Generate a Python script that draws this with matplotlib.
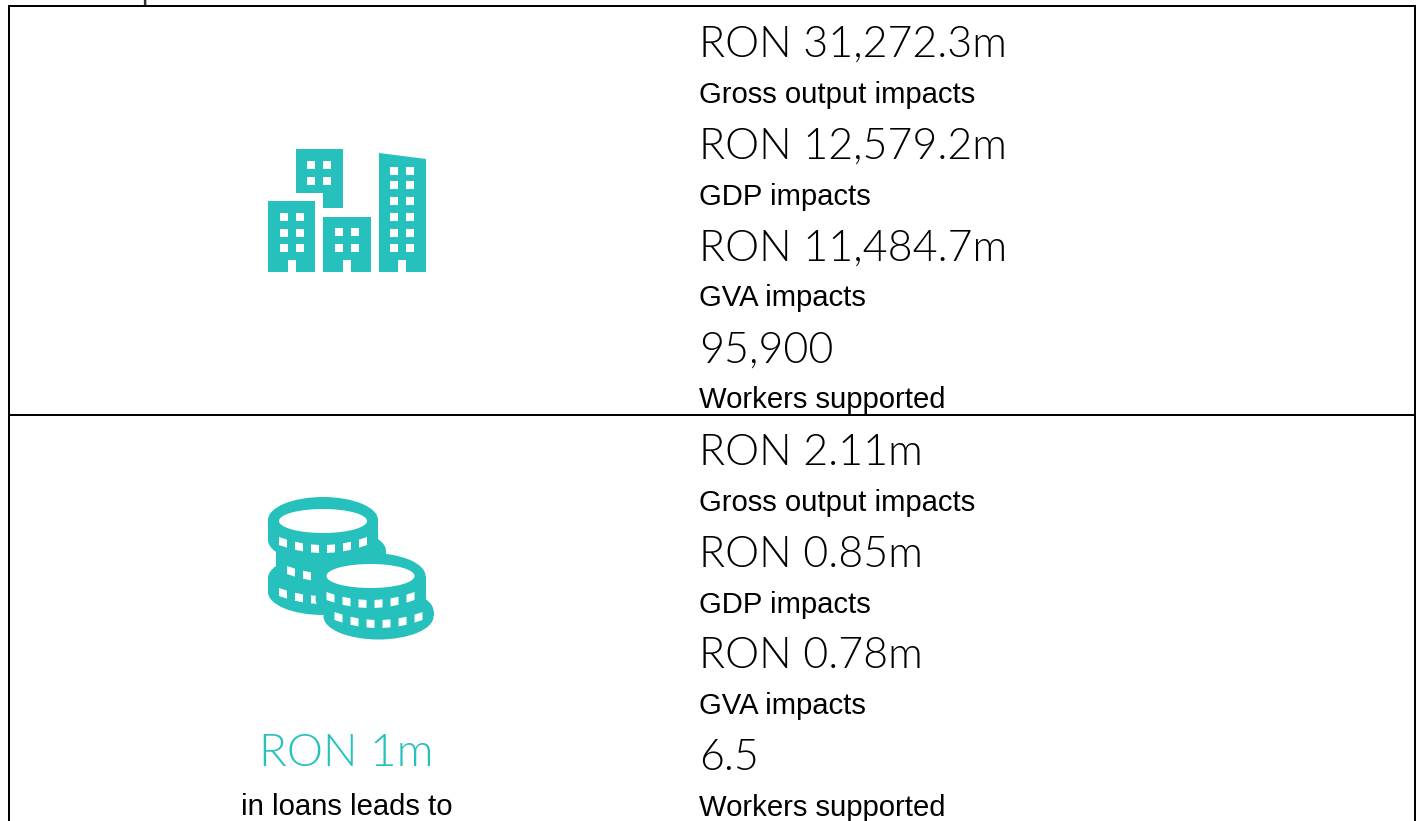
import matplotlib
matplotlib.use("Agg")
import matplotlib.pyplot as plt
from matplotlib.patches import Polygon, Rectangle, Ellipse

TEAL = "#26C1BC"
BIG_FONT = ["Lato", "DejaVu Sans"]
BODY_FONT = ["Liberation Sans", "DejaVu Sans"]

top_values = ["RON 31,272.3m", "RON 12,579.2m", "RON 11,484.7m", "95,900"]
bottom_values = ["RON 2.11m", "RON 0.85m", "RON 0.78m", "6.5"]
metric_labels = ["Gross output impacts", "GDP impacts", "GVA impacts", "Workers supported"]
side_value = "RON 1m"
side_label = "in loans leads to"
clipped_title = "Macro impacts"

W, H = 1419, 821
fig = plt.figure(figsize=(W / 100, H / 100), dpi=100)
ax = fig.add_axes([0, 0, 1, 1])
ax.set_xlim(0, W)
ax.set_ylim(H, 0)
ax.axis("off")


def rect(x0, y0, x1, y1, color=TEAL, z=3):
    ax.add_patch(Rectangle((x0, y0), x1 - x0, y1 - y0, fc=color, ec="none", zorder=z))


def windows(xs, ys, size=8):
    for x in xs:
        for y in ys:
            rect(x, y, x + size, y + size, "white", 4)


def buildings():
    rect(268, 201, 315, 272)
    windows([280, 296], [213, 229, 244])
    rect(288, 260, 296, 273, "white", 4)
    rect(323, 217, 371, 272)
    windows([335, 351], [228, 244])
    rect(343, 260, 351, 273, "white", 4)
    ax.add_patch(Polygon([(296, 149), (343, 149), (343, 208), (323, 208),
                          (323, 193), (296, 193)], fc=TEAL, ec="none", zorder=3))
    windows([307, 323], [161, 177])
    ax.add_patch(Polygon([(379, 153), (426, 159), (426, 272), (379, 272)],
                         fc=TEAL, ec="none", zorder=3))
    windows([390, 406], [167, 181, 197, 213, 229, 244])
    rect(398, 260, 406, 273, "white", 4)


def coin_body(cx, top, bottom, rx=55, ry=23, z=3):
    ax.add_patch(Ellipse((cx, top + ry), 2 * rx, 2 * ry, fc=TEAL, ec="none", zorder=z))
    ax.add_patch(Ellipse((cx, bottom - ry), 2 * rx, 2 * ry, fc=TEAL, ec="none", zorder=z))
    rect(cx - rx, top + ry, cx + rx, bottom - ry, TEAL, z)


def notch_row(cx, y_mid, offsets, z, h=8, sag=8, half_w=4, limit=44):
    def top(dx):
        return y_mid - sag * (dx / limit) ** 2

    for off in offsets:
        l, r = off - half_w, off + half_w
        l2, r2 = max(l, -limit), min(r, limit)
        ax.add_patch(Polygon([(cx + l2, top(l2)), (cx + r2, top(r2)),
                              (cx + r2, top(r2) + h), (cx + l2, top(l2) + h)],
                             fc="white", ec="none", zorder=z))


def coins():
    # left stack: bodies below, notches and hole above
    coin_body(323, 555, 615, z=3)
    coin_body(331, 528, 592, z=3)
    coin_body(323, 497, 563, z=3)
    ax.add_patch(Ellipse((323, 521), 88, 24, fc="white", ec="none", zorder=4))
    notch_row(323, 545, [-40, -24, -8, 8, 24, 40], 4)
    notch_row(331, 574, [-40, -24, -8], 4)
    notch_row(323, 596, [-40, -24, -8], 4)
    # right stack, drawn over the left one
    coin_body(378.5, 588, 639.5, z=7)
    coin_body(370.5, 553, 622, z=7)
    ax.add_patch(Ellipse((370.5, 576), 88, 24, fc="white", ec="none", zorder=8))
    notch_row(370.5, 600, [-40, -24, -8, 8, 24, 40], 8)
    notch_row(378.5, 620, [-40, -24, -8, 8, 24, 40], 8)


# table frame
for (x0, y0, x1, y1) in [(8, 6, 1416, 6), (9, 5, 9, 821), (9, 415, 1416, 415), (1415, 5, 1415, 821)]:
    ax.plot([x0, x1], [y0, y1], color="black", lw=1.44, solid_capstyle="butt", zorder=2)

ax.text(22, -1, clipped_title, fontsize=21, family=BODY_FONT, va="baseline", color="#333333", clip_on=False)

buildings()
coins()

ax.text(346, 766, side_value, fontsize=33, family=BIG_FONT, weight=300, color=TEAL, ha="center", va="baseline")
ax.text(346.5, 815, side_label, fontsize=21.1, family=BODY_FONT, color="black", ha="center", va="baseline")

for base, vals in [(57, top_values), (465, bottom_values)]:
    for i, (v, lab) in enumerate(zip(vals, metric_labels)):
        y = base + i * 101.7
        ax.text(699, y, v, fontsize=31, family=BIG_FONT, weight=300, color="black", va="baseline")
        ax.text(699, y + 46, lab, fontsize=21.1, family=BODY_FONT, color="black", va="baseline")

fig.savefig("out.png", dpi=100)
